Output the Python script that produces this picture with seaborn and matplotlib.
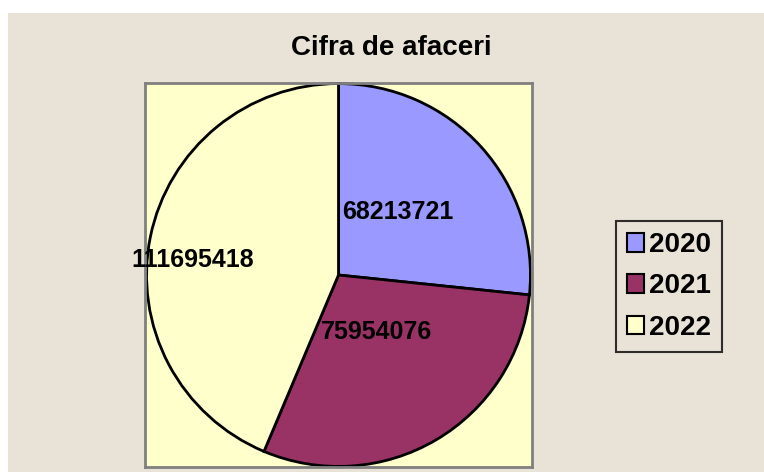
import matplotlib
matplotlib.use("Agg")
import matplotlib.pyplot as plt
import matplotlib.patches as mpatches
import seaborn as sns

# datos del grafico
anios = ["2020", "2021", "2022"]
cifra_afaceri = [68213721, 75954076, 111695418]
etiquetas = ["68213721", "75954076", "111695418"]
titulo = "Cifra de afaceri"

# estilo
sns.set_style("white")
plt.rcParams["font.family"] = ["Liberation Sans", "DejaVu Sans"]
plt.rcParams["font.weight"] = "bold"
plt.rcParams["text.color"] = "black"

colores = sns.color_palette(["#9999FF", "#993366", "#FFFFCC"])

W, H = 764, 472
fig = plt.figure(figsize=(W / 100, H / 100), dpi=100, facecolor="white")

# fondo tipo papel
fondo = mpatches.Rectangle((8 / W, 0), 1 - 8 / W, 1 - 13 / H,
                           transform=fig.transFigure, facecolor="#e9e2d6",
                           edgecolor="none", zorder=-10)
fig.patches.append(fondo)

# area del grafico
x0, x1, y0, y1 = 145, 532, 83, 467
ax = fig.add_axes([x0 / W, 1 - y1 / H, (x1 - x0) / W, (y1 - y0) / H])

wedges, _ = ax.pie(cifra_afaceri, colors=colores, startangle=90, counterclock=False,
                   radius=1.0, wedgeprops=dict(edgecolor="black", linewidth=2))
ax.set_frame_on(True)
ax.set_facecolor("#FFFFCC")
for s in ax.spines.values():
    s.set_edgecolor("#808080")
    s.set_linewidth(2)
    s.set_visible(True)
ax.set_xlim(-1.008, 1.008)
ax.set_ylim(-1.003, 1.003)
ax.set_aspect("auto")
ax.set_xticks([])
ax.set_yticks([])

# posicion de las etiquetas dentro del circulo (en radios)
pos_etiquetas = [(0.31, 0.33), (0.20, -0.30), (-0.76, 0.08)]
for txt, (px, py) in zip(etiquetas, pos_etiquetas):
    ax.text(px, py, txt, ha="center", va="center", fontsize=18,
            fontweight="bold", color="black", clip_on=False)

fig.text(391 / W, 1 - 48 / H, titulo, ha="center", va="center",
         fontsize=20, fontweight="bold", color="black")

leg = fig.legend(wedges, anios, loc="upper left",
                 bbox_to_anchor=(616 / W, 1 - 221 / H),
                 bbox_transform=fig.transFigure,
                 fontsize=20, frameon=True, fancybox=False,
                 handlelength=0.62, handleheight=0.65, handletextpad=0.18,
                 labelspacing=0.55, borderpad=0.4, borderaxespad=0)
leg.get_frame().set_edgecolor("black")
leg.get_frame().set_linewidth(1.5)
leg.get_frame().set_facecolor("none")
for t in leg.get_texts():
    t.set_fontweight("bold")
    t.set_color("black")
for h in leg.legend_handles:
    h.set_linewidth(1.5)

fig.savefig("out.png", dpi=100, facecolor="white")
